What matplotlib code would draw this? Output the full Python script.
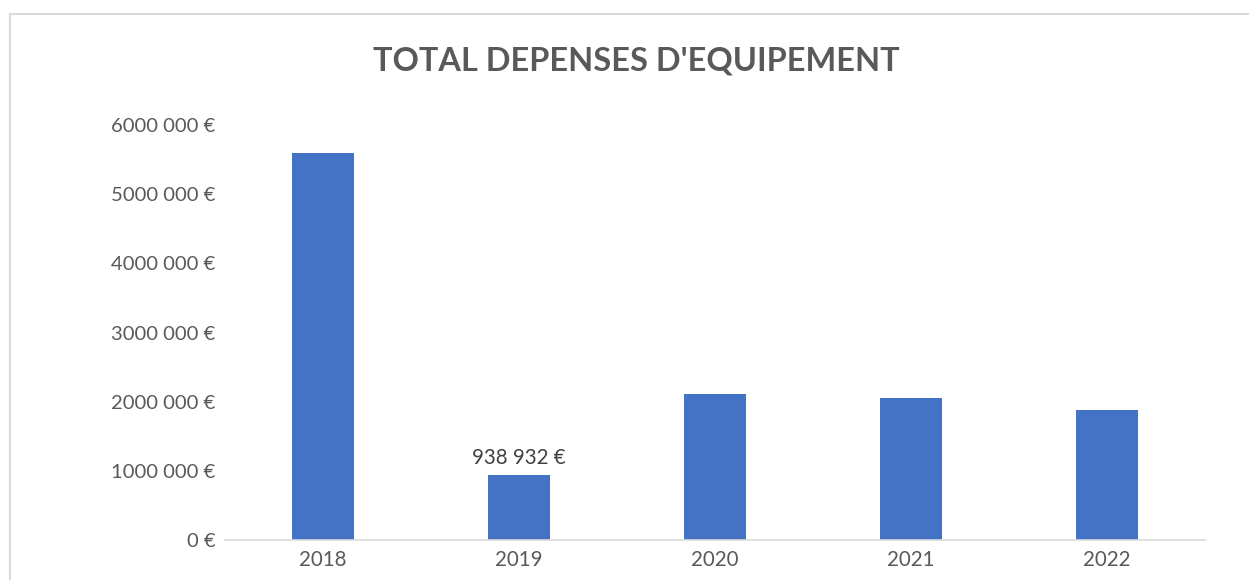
import matplotlib.pyplot as plt
from matplotlib.patches import Rectangle

# donnees
annees = ["2018", "2019", "2020", "2021", "2022"]
depenses = [5590000, 938932, 2110000, 2050000, 1880000]
graduations = [0, 1000000, 2000000, 3000000, 4000000, 5000000, 6000000]

plt.rcParams['font.family'] = ['Lato', 'DejaVu Sans']
gris = '#595959'

fig = plt.figure(figsize=(12.49, 5.80), dpi=100)
ax = fig.add_axes([225 / 1249, 40 / 580, 980 / 1249, 415 / 580])

x = range(len(annees))
ax.bar(x, depenses, width=0.316, color='#4472C4', zorder=2)

ax.set_xlim(-0.5, len(annees) - 0.5)
ax.set_ylim(0, 6000000)
ax.set_xticks(list(x))
ax.set_xticklabels(annees, fontsize=14.8, color=gris)


def format_euro(v):
    if v == 0:
        return "0 €"
    return f"{v // 1000} 000 €"


ax.set_yticks(graduations)
ax.set_yticklabels([format_euro(v) for v in graduations], fontsize=14.6, color=gris)
ax.tick_params(axis='both', length=0)
ax.tick_params(axis='y', pad=7)
ax.tick_params(axis='x', pad=7)

for s in ['top', 'right', 'left']:
    ax.spines[s].set_visible(False)
ax.spines['bottom'].set_color('#D9D9D9')
ax.spines['bottom'].set_linewidth(1.2)

# etiquette de donnee pour 2019
ax.annotate("938 932 €", (1, depenses[1]), xytext=(0, 5), textcoords='offset points',
            ha='center', va='bottom', fontsize=14.8, color='#404040')

fig.text(636 / 1249, 1 - 61 / 580, "TOTAL DEPENSES D'EQUIPEMENT", ha='center', va='center',
         fontsize=23.4, fontweight='bold', color=gris)

# cadre du graphique
fig.patches.append(Rectangle((10 / 1249, -0.1), 1.2, 1 - 14 / 580 + 0.1, transform=fig.transFigure,
                             fill=False, edgecolor='#D9D9D9', linewidth=1.5))

fig.savefig("out.png", dpi=100)
